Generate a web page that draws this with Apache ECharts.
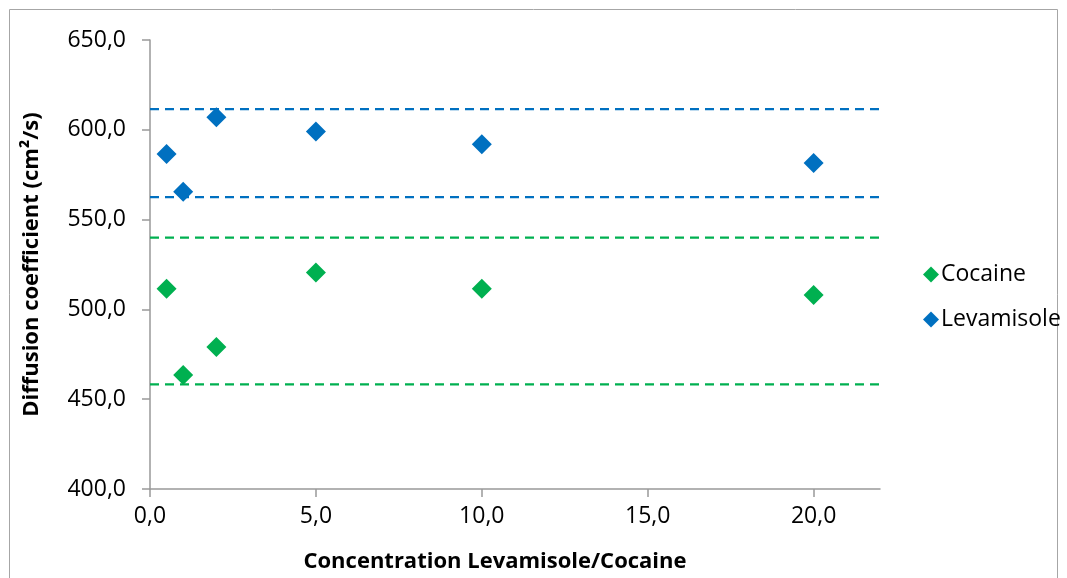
<!DOCTYPE html>
<html><head><meta charset="utf-8">
<script src="https://cdn.jsdelivr.net/npm/echarts@6/dist/echarts.min.js"></script>
<style>html,body{margin:0;padding:0;background:#fff}#c{width:1067px;height:578px}</style>
</head><body><div id="c"></div>
<script>
const concentrations = [0.5, 1.0, 2.0, 5.0, 10.0, 20.0];
const cocaine = [511.5, 463.5, 479.0, 520.5, 511.5, 508.0];
const levamisole = [586.5, 565.5, 607.0, 599.0, 592.0, 581.5];
const cocaineBounds = [540.0, 458.3];
const levamisoleBounds = [611.5, 562.5];
const xRange = [0, 22];
const FONT = '"Open Sans", sans-serif';
const fmt = v => v.toFixed(1).replace('.', ',');
const pts = arr => concentrations.map((c, i) => [c, arr[i]]);
const hline = y => xRange.map(x => [x, y]);
const dashSeries = (y, color) => ({
  type: 'line', data: hline(y), symbol: 'none', silent: true,
  lineStyle: {color, width: 2.2, type: [9, 6]}, z: 1
});
const chart = echarts.init(document.getElementById('c'));
chart.setOption({
  animation: false,
  backgroundColor: '#fff',
  graphic: [{type: 'rect', shape: {x: 9.5, y: 9.5, width: 1048, height: 600}, style: {fill: 'none', stroke: '#a6a6a6', lineWidth: 1}}],
  grid: {left: 150, right: 187, top: 40, bottom: 88},
  legend: {
    orient: 'vertical', left: 918, top: 258, itemGap: 22, itemWidth: 16, itemHeight: 16,
    data: [{name: 'Cocaine', icon: 'diamond'}, {name: 'Levamisole', icon: 'diamond'}],
    textStyle: {fontFamily: FONT, fontSize: 23, color: '#000', padding: [0, 0, 0, -3]}
  },
  xAxis: {
    type: 'value', min: 0, max: 22, interval: 5,
    name: 'Concentration Levamisole/Cocaine', nameLocation: 'middle', nameGap: 62,
    nameTextStyle: {fontFamily: FONT, fontSize: 22, fontWeight: 'bold', color: '#000', padding: [0, 40, 0, 0]},
    axisLine: {lineStyle: {color: '#999', width: 1.5}},
    axisTick: {show: true, length: 8, lineStyle: {color: '#999', width: 1.5}},
    axisLabel: {formatter: fmt, fontFamily: FONT, fontSize: 23, color: '#000', margin: 16, showMaxLabel: false},
    splitLine: {show: false}
  },
  yAxis: {
    type: 'value', min: 400, max: 650, interval: 50,
    name: 'Diffusion coefficient (cm²/s)', nameLocation: 'middle', nameGap: 107, nameRotate: 90,
    nameTextStyle: {fontFamily: FONT, fontSize: 22, fontWeight: 'bold', color: '#000'},
    axisLine: {show: true, lineStyle: {color: '#999', width: 1.5}},
    axisTick: {show: true, length: 8, lineStyle: {color: '#999', width: 1.5}},
    axisLabel: {formatter: fmt, fontFamily: FONT, fontSize: 23, color: '#000', margin: 24},
    splitLine: {show: false}
  },
  series: [
    dashSeries(levamisoleBounds[0], '#0070c0'),
    dashSeries(levamisoleBounds[1], '#0070c0'),
    dashSeries(cocaineBounds[0], '#00b050'),
    dashSeries(cocaineBounds[1], '#00b050'),
    {name: 'Cocaine', type: 'scatter', symbol: 'diamond', symbolSize: 20, data: pts(cocaine), itemStyle: {color: '#00b050', opacity: 1}, z: 3},
    {name: 'Levamisole', type: 'scatter', symbol: 'diamond', symbolSize: 20, data: pts(levamisole), itemStyle: {color: '#0070c0', opacity: 1}, z: 3}
  ]
});
</script></body></html>
